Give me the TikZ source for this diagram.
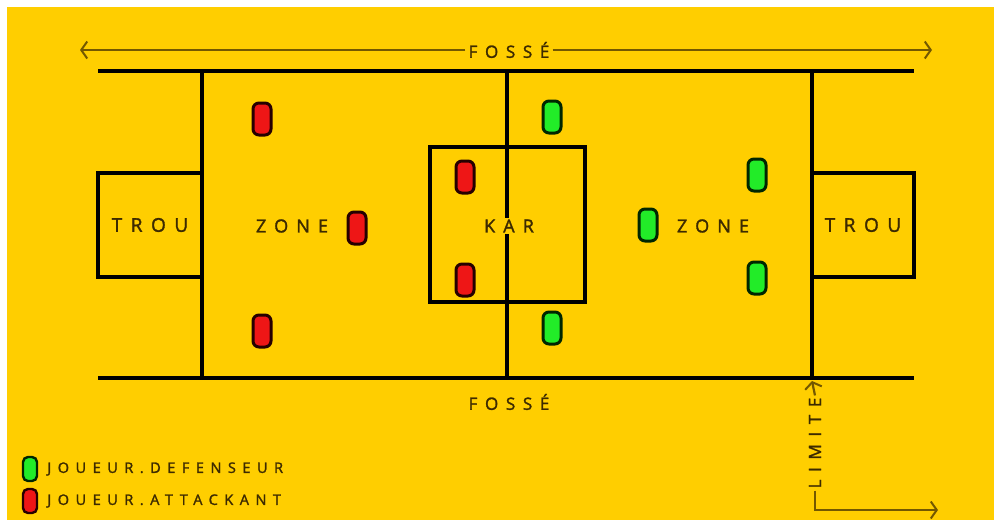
\documentclass[tikz,border=0pt]{standalone}
\usepackage{fontspec}
\newfontfamily\spaced[LetterSpace=45,FakeBold=1.6]{Open Sans}
\usetikzlibrary{positioning,arrows.meta}
\definecolor{terrain}{RGB}{255,206,0}
\definecolor{ink}{RGB}{60,42,0}
\definecolor{trait}{RGB}{115,88,0}
\definecolor{attaque}{RGB}{238,22,22}
\definecolor{defense}{RGB}{34,236,40}

\begin{document}
\begin{tikzpicture}[
  x=1pt, y=-1pt,
  every node/.style={
    text centered,
    text=ink,
    font=\spaced\fontsize{18}{20}\selectfont
  },
  fieldline/.style={
    line width=4pt,
    black
  },
  zonebox/.style={
    rectangle,
    draw=black,
    line width=3.2pt,
    inner sep=0pt
  },
  attacker/.style={
    rectangle,
    rounded corners=6pt,
    draw=black!85!red,
    line width=3pt,
    fill=attaque,
    minimum width=18pt,
    minimum height=32pt,
    inner sep=0pt
  },
  defender/.style={
    attacker,
    draw=black!85!green,
    fill=defense
  },
  legendmark/.style={
    minimum width=14pt,
    minimum height=24pt,
    rounded corners=5pt,
    line width=2.4pt
  },
  legendtext/.style={
    font=\spaced\fontsize{14.5}{16}\selectfont,
    anchor=west,
    inner sep=0pt
  },
  marker/.style={
    draw=trait,
    line width=2.2pt,
    shorten >=0pt,
    shorten <=0pt
  },
  chevron/.style={
    arrows={-Straight Barb[length=6pt,width=17pt,line width=2pt]}
  }
]

  % fond
  \fill[white] (0,0) rectangle (994,520);
  \fill[terrain] (7,7) rectangle (994,520);
  \useasboundingbox (0,0) rectangle (994,520);

  % terrain
  \draw[fieldline] (98,71) -- (914,71);
  \draw[fieldline] (98,378) -- (914,378);
  \draw[fieldline, line width=3.5pt] (202,71) -- (202,378);
  \draw[fieldline, line width=3.5pt] (812,71) -- (812,378);
  \draw[fieldline, line width=3.5pt] (507,71) -- (507,378);

  \node (TrouG) [zonebox, minimum width=104pt, minimum height=104pt, font=\spaced\fontsize{19}{21}\selectfont] at (150,225) {TROU};
  \node (TrouD) [zonebox, minimum width=102pt, minimum height=104pt, font=\spaced\fontsize{19}{21}\selectfont] at (863,225) {TROU};
  \node (Kar) [zonebox, minimum width=155pt, minimum height=155pt] at (507.5,224.5) {};
  \node (KarTexte) [fill=terrain, inner sep=2pt] at (509,226) {KAR};

  \node (ZoneG) at (292,226) {ZONE};
  \node (ZoneD) at (713,226) {ZONE};

  % joueurs
  \node (A1) [attacker] at (262,119) {};
  \node (A2) [attacker] at (357,228) {};
  \node (A3) [attacker] at (262,331) {};
  \node (A4) [attacker] at (465,177) {};
  \node (A5) [attacker] at (465,280) {};

  \node (D1) [defender] at (552,117) {};
  \node (D2) [defender] at (757,175) {};
  \node (D3) [defender] at (648,225) {};
  \node (D4) [defender] at (757,278) {};
  \node (D5) [defender] at (552,328) {};

  % fossés
  \coordinate (FosseG) at (80,50);
  \coordinate (FosseD) at (932,50);
  \node (FosseHaut) [font=\spaced\fontsize{17}{19}\selectfont, inner sep=3pt] at (509,50) {FOSSÉ};
  \draw[marker, chevron] (FosseHaut) -- (FosseG);
  \draw[marker, chevron] (FosseHaut) -- (FosseD);
  \node (FosseBas) [font=\spaced\fontsize{17}{19}\selectfont] at (509,402) {FOSSÉ};

  % limite
  \coordinate (LimiteHaut) at (812,381);
  \coordinate (LimiteFin) at (938,510);
  \node (Limite) [rotate=90, inner sep=2pt, font=\spaced\fontsize{17}{19}\selectfont] at (815,443) {LIMITE};
  \draw[marker, chevron] (Limite.east) -- (LimiteHaut);
  \draw[marker, chevron] (Limite.west) |- (LimiteFin);

  % legende
  \node (LegDef) [defender, legendmark] at (30,469) {};
  \node (LegAtt) [attacker, legendmark] at (30,501) {};
  \node (LegDefTexte) [legendtext, right=9pt of LegDef] {JOUEUR.DEFENSEUR};
  \node (LegAttTexte) [legendtext, right=9pt of LegAtt] {JOUEUR.ATTACKANT};
\end{tikzpicture}
\end{document}
